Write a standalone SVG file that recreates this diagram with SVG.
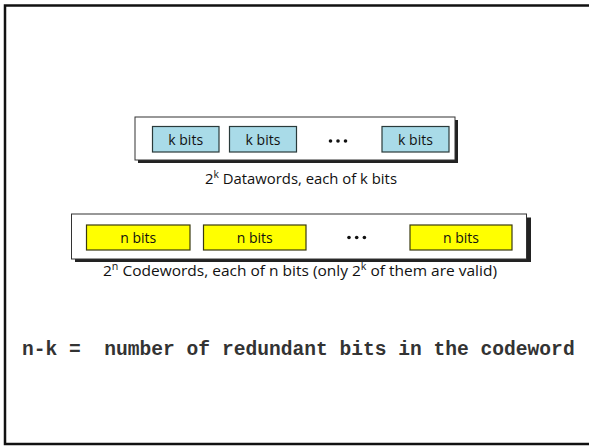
<svg xmlns="http://www.w3.org/2000/svg" width="589" height="446" viewBox="0 0 589 446">
<style>
.frame{fill:#fff;stroke:#111;stroke-width:2.5}
.shadow{fill:#222}
.panel{fill:#fff;stroke:#333;stroke-width:1}
.kb{fill:#a9dbe8;stroke:#2a3a3a;stroke-width:1.2}
.nb{fill:#ffff00;stroke:#3a3a10;stroke-width:1.2}
.lbl{font-family:"Open Sans","Liberation Sans",sans-serif;font-size:14px;fill:#111;text-anchor:middle}
.cap{font-family:"Open Sans","Liberation Sans",sans-serif;font-size:14.5px;fill:#111}
.sup{font-size:10px}
.dots{fill:#111}
.mono{font-family:"Liberation Mono","Courier New",monospace;font-weight:bold;font-size:19.6px;fill:#333}
</style>
<rect class="frame" x="5" y="5.5" width="590" height="438.5"/>
<g id="datawords">
<rect class="shadow" x="138" y="120" width="320" height="43"/>
<rect class="panel" x="135" y="117" width="320" height="43"/>
<g id="k1"><rect class="kb" x="152.5" y="126.5" width="66.5" height="25.5"/><text class="lbl" x="185.7" y="144.5">k bits</text></g>
<g id="k2"><rect class="kb" x="229.5" y="126.5" width="67" height="25.5"/><text class="lbl" x="263" y="144.5">k bits</text></g>
<g id="kdots"><circle class="dots" cx="330.5" cy="141" r="1.8"/><circle class="dots" cx="338" cy="141" r="1.8"/><circle class="dots" cx="345.5" cy="141" r="1.8"/></g>
<g id="k3"><rect class="kb" x="382" y="126.5" width="67" height="25.5"/><text class="lbl" x="415.5" y="144.5">k bits</text></g>
</g>
<g id="datacap"><text class="cap" x="205" y="184" textLength="192" lengthAdjust="spacingAndGlyphs">2<tspan class="sup" dy="-6">k</tspan><tspan dy="6"> Datawords, each of k bits</tspan></text></g>
<g id="codewords">
<rect class="shadow" x="75" y="217.5" width="456" height="44.5"/>
<rect class="panel" x="71.5" y="214" width="455" height="45"/>
<g id="n1"><rect class="nb" x="86.5" y="225" width="103.5" height="25"/><text class="lbl" x="138.3" y="242.5">n bits</text></g>
<g id="n2"><rect class="nb" x="203.5" y="225" width="102.5" height="25"/><text class="lbl" x="254.7" y="242.5">n bits</text></g>
<g id="ndots"><circle class="dots" cx="349" cy="237.5" r="1.8"/><circle class="dots" cx="356.7" cy="237.5" r="1.8"/><circle class="dots" cx="364.4" cy="237.5" r="1.8"/></g>
<g id="n3"><rect class="nb" x="410" y="225" width="102" height="25"/><text class="lbl" x="461" y="242.5">n bits</text></g>
</g>
<g id="codecap"><text class="cap" x="103" y="276" textLength="394" lengthAdjust="spacingAndGlyphs">2<tspan class="sup" dy="-6">n</tspan><tspan dy="6"> Codewords, each of n bits (only 2</tspan><tspan class="sup" dy="-6">k</tspan><tspan dy="6"> of them are valid)</tspan></text></g>
<g id="formula"><text class="mono" x="22" y="355" xml:space="preserve">n-k =  number of redundant bits in the codeword</text></g>
</svg>
